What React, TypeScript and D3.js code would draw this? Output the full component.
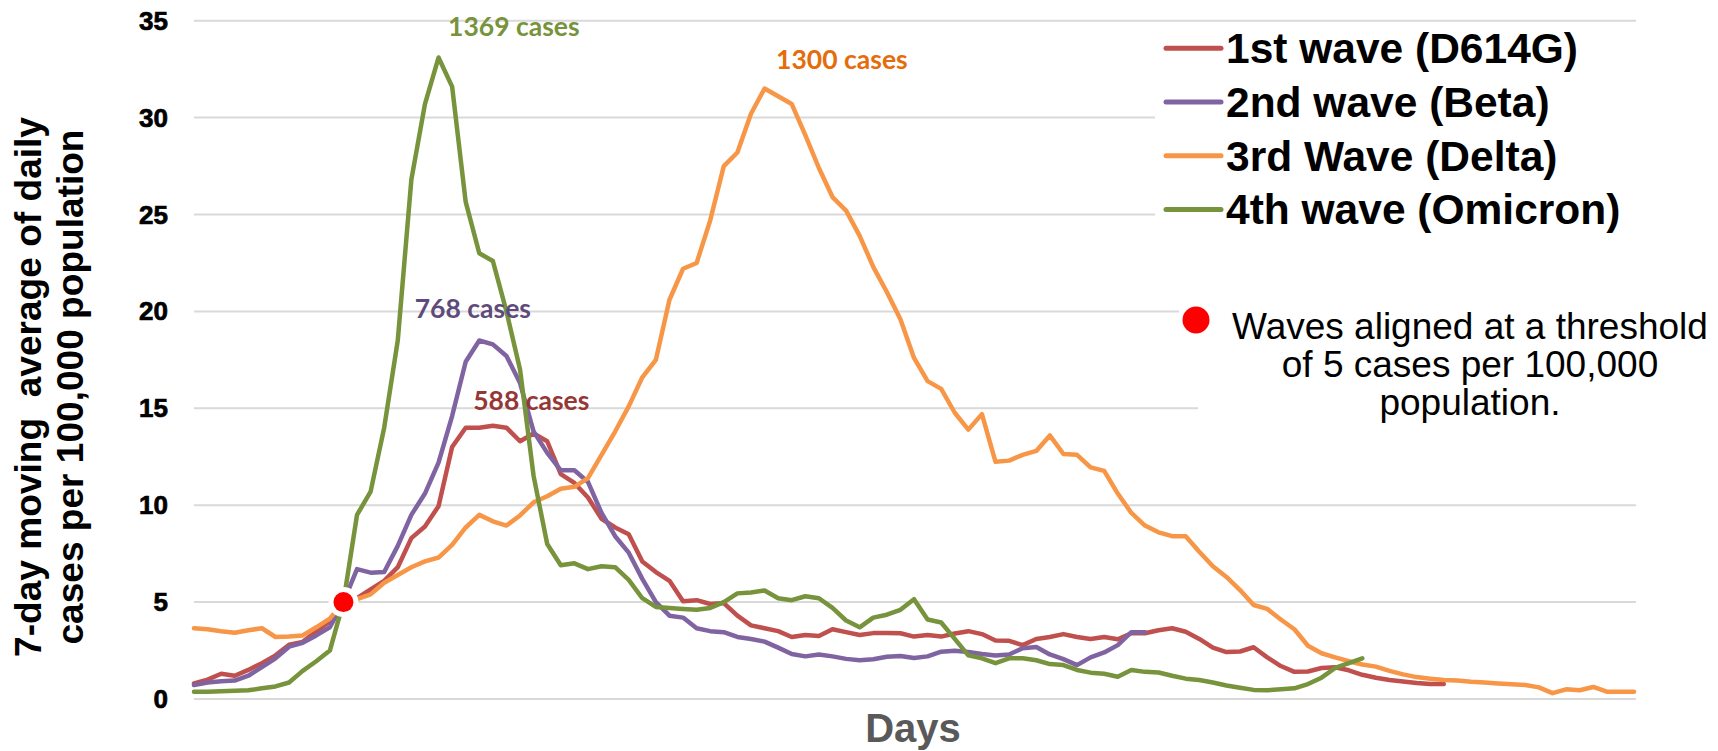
import React from 'react';
import * as d3 from 'd3';

// days relative to the day each wave crossed 5 cases / 100k, sampled every 2 days
const DAY_START = -22;
const DAY_STEP = 2;

const wave1 = [0.8, 1.0, 1.3, 1.2, 1.5, 1.85, 2.25, 2.8, 2.95, 3.5, 4.0, 5.0,
  5.2, 5.65, 6.1, 6.8, 8.3, 8.9, 9.95, 13.0, 14.0, 14.0, 14.1, 14.0, 13.3, 13.7, 13.3, 11.6, 11.15, 10.4,
  9.3, 8.85, 8.5, 7.1, 6.55, 6.1, 5.05, 5.1, 4.9, 4.95, 4.3, 3.8, 3.65, 3.5, 3.2, 3.3, 3.25, 3.6, 3.45, 3.3,
  3.4, 3.4, 3.39, 3.22, 3.3, 3.22, 3.38, 3.5, 3.35, 3.02, 3.0, 2.78, 3.1, 3.2, 3.35, 3.2, 3.1, 3.2, 3.08, 3.39,
  3.39, 3.55, 3.65, 3.47, 3.1, 2.65, 2.42, 2.45, 2.67, 2.15, 1.7, 1.4, 1.42, 1.6, 1.64, 1.48, 1.25, 1.1, 0.98, 0.9,
  0.82, 0.77, 0.77];

const wave2 = [0.72, 0.85, 0.92, 0.95, 1.2, 1.65, 2.1, 2.7, 2.9, 3.28, 3.7, 5.0,
  6.7, 6.52, 6.55, 7.9, 9.5, 10.6, 12.2, 14.6, 17.4, 18.5, 18.3, 17.7, 16.3, 13.8, 12.7, 11.8, 11.8, 11.2,
  9.6, 8.4, 7.55, 6.2, 5.0, 4.3, 4.2, 3.65, 3.5, 3.45, 3.2, 3.1, 2.96, 2.65, 2.32, 2.2, 2.3, 2.2, 2.07, 2.0,
  2.05, 2.18, 2.22, 2.12, 2.2, 2.44, 2.49, 2.42, 2.32, 2.24, 2.3, 2.62, 2.68, 2.3, 2.06, 1.75, 2.15, 2.4, 2.78, 3.45,
  3.45];

const wave3 = [3.65, 3.6, 3.5, 3.42, 3.55, 3.65, 3.2, 3.22, 3.28, 3.7, 4.15, 5.0,
  5.15, 5.4, 6.0, 6.4, 6.8, 7.1, 7.3, 7.95, 8.85, 9.5, 9.17, 8.95, 9.47, 10.15, 10.46, 10.85, 10.95, 11.4,
  12.6, 13.8, 15.1, 16.6, 17.5, 20.6, 22.2, 22.5, 24.7, 27.5, 28.2, 30.2, 31.5, 31.1, 30.7, 29.1, 27.4, 25.9, 25.2, 23.9,
  22.3, 21.0, 19.6, 17.6, 16.4, 16.0, 14.77, 13.9, 14.7, 12.24, 12.3, 12.6, 12.8, 13.6, 12.64, 12.6, 11.95, 11.77, 10.6, 9.6,
  8.95, 8.6, 8.4, 8.4, 7.6, 6.85, 6.3, 5.62, 4.85, 4.65, 4.1, 3.6, 2.75, 2.36, 2.15, 1.95, 1.78, 1.67, 1.45, 1.27,
  1.13, 1.05, 0.98, 0.95, 0.89, 0.85, 0.8, 0.76, 0.72, 0.6, 0.3, 0.5, 0.45, 0.62, 0.38, 0.38, 0.38];

const wave4 = [0.38, 0.38, 0.4, 0.42, 0.45, 0.55, 0.65, 0.85, 1.45, 1.95, 2.5, 5.0,
  9.5, 10.7, 14.0, 18.5, 26.8, 30.7, 33.1, 31.6, 25.65, 23.0, 22.6, 20.0, 17.0, 11.5, 8.0, 6.9, 7.0, 6.7,
  6.85, 6.8, 6.15, 5.2, 4.75, 4.7, 4.65, 4.6, 4.7, 5.0, 5.45, 5.5, 5.6, 5.2, 5.1, 5.3, 5.2, 4.7, 4.05, 3.7,
  4.2, 4.35, 4.6, 5.15, 4.1, 3.95, 3.1, 2.25, 2.1, 1.85, 2.1, 2.1, 2.0, 1.8, 1.75, 1.5, 1.36, 1.3, 1.15, 1.5,
  1.4, 1.37, 1.2, 1.05, 0.98, 0.85, 0.7, 0.58, 0.47, 0.45, 0.5, 0.55, 0.77, 1.1, 1.6, 1.85, 2.1];

const seriesNames = ['1st wave (D614G)', '2nd wave (Beta)', '3rd Wave (Delta)', '4th wave (Omicron)'];
const seriesColors = ['#C0504D', '#8064A2', '#F79646', '#77933C'];
const seriesValues = [wave1, wave2, wave3, wave4];

const yTicks = [0, 5, 10, 15, 20, 25, 30, 35];

// peak annotations, anchored at (day, value) of the text start / baseline
const peakTexts = ['1369 cases', '1300 cases', '768 cases', '588 cases'];
const peakColors = ['#77933C', '#E46C0A', '#604A7B', '#953735'];
const peakDays = [15.4, 63.7, 10.5, 19.1];
const peakVals = [34.2, 32.5, 19.65, 14.9];

const THRESHOLD = 5;
const noteLines = ['Waves aligned at a threshold', 'of 5 cases per 100,000', 'population.'];

const W = 1718;
const H = 751;
const SANS = '"Liberation Sans", Arial, sans-serif';

export default function App() {
  const x = d3.scaleLinear().domain([-22, 190]).range([194, 1634]);
  const y = d3.scaleLinear().domain([0, 35]).range([699, 20.7]);

  const line = d3.line<number>()
    .x((_, i) => x(DAY_START + i * DAY_STEP))
    .y(d => y(d));

  return (
    <div style={{ position: 'absolute', left: 0, top: 0, width: W, height: H, background: '#fff' }}>
      <svg width={W} height={H} style={{ display: 'block' }}>
        {/* grid */}
        {yTicks.map(t => (
          <line key={t} x1={194} x2={1636} y1={y(t)} y2={y(t)} stroke="#D9D9D9" strokeWidth={2} />
        ))}
        {/* legend + note boxes hide the grid behind them */}
        <rect x={1155} y={27} width={W - 1155} height={210} fill="#fff" />
        <rect x={1198} y={290} width={W - 1198} height={140} fill="#fff" />
        <rect x={1179} y={300} width={40} height={40} fill="#fff" />

        {yTicks.map(t => (
          <text key={t} x={168} y={y(t) + 9} textAnchor="end" fontFamily={SANS}
            fontWeight="bold" fontSize={26} fill="#000" stroke="#000" strokeWidth={0.7}>{t}</text>
        ))}

        <text transform={`translate(41,387) rotate(-90)`} textAnchor="middle" fontFamily={SANS}
          fontWeight="bold" fontSize={37} textLength={540} lengthAdjust="spacingAndGlyphs"
          style={{ whiteSpace: 'pre' }}>7-day moving  average of daily</text>
        <text transform={`translate(83,387) rotate(-90)`} textAnchor="middle" fontFamily={SANS}
          fontWeight="bold" fontSize={37} textLength={515} lengthAdjust="spacingAndGlyphs">cases per 100,000 population</text>

        <text x={913} y={742} textAnchor="middle" fontFamily={SANS} fontWeight="bold"
          fontSize={40} fill="#595959">Days</text>

        {seriesValues.map((vals, i) => (
          <path key={i} d={line(vals) || ''} fill="none" stroke={seriesColors[i]}
            strokeWidth={4.5} strokeLinejoin="round" strokeLinecap="round" />
        ))}

        {/* alignment point */}
        <circle cx={x(0)} cy={y(THRESHOLD)} r={15} fill="#fff" />
        <circle cx={x(0)} cy={y(THRESHOLD)} r={10} fill="#FF0000" />

        {peakTexts.map((t, i) => (
          <text key={t} x={x(peakDays[i])} y={y(peakVals[i])} fontFamily="Lato, sans-serif"
            fontWeight="bold" fontSize={26.5} fill={peakColors[i]}>{t}</text>
        ))}

        {/* legend */}
        {seriesNames.map((n, i) => {
          const cy = 48.3 + i * 53.7;
          return (
            <g key={n}>
              <line x1={1166} x2={1221} y1={cy} y2={cy} stroke={seriesColors[i]} strokeWidth={5} strokeLinecap="round" />
              <text x={1226} y={cy + 15} fontFamily={SANS} fontWeight="bold" fontSize={42.5} fill="#000">{n}</text>
            </g>
          );
        })}

        <circle cx={1196} cy={320} r={13.5} fill="#FF0000" />
        {noteLines.map((l, i) => (
          <text key={l} x={1470} y={339 + i * 38} textAnchor="middle" fontFamily={SANS}
            fontSize={37} fill="#000">{l}</text>
        ))}
      </svg>
    </div>
  );
}
